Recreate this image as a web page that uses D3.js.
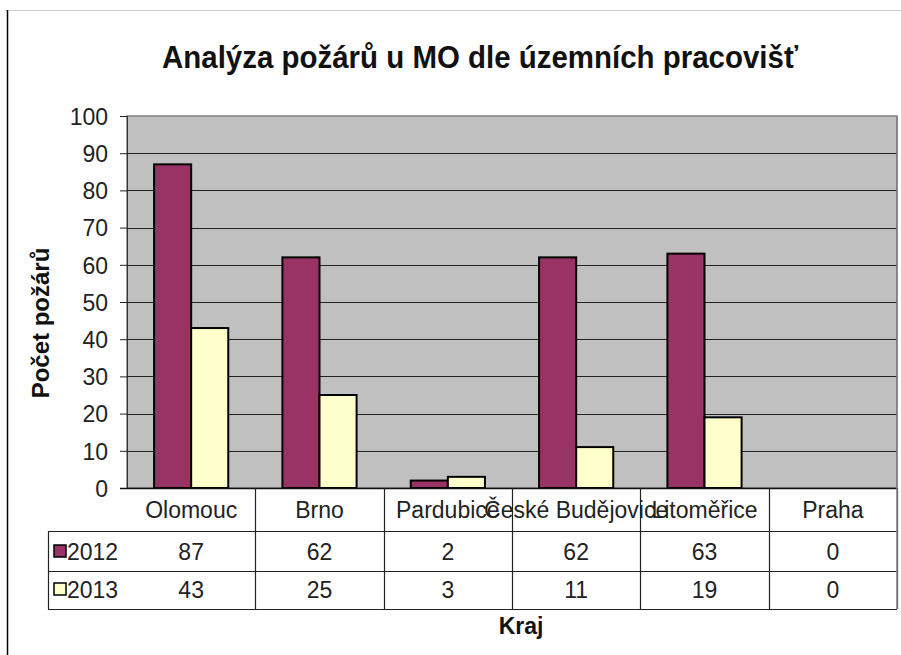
<!DOCTYPE html>
<html><head><meta charset="utf-8">
<script src="https://cdn.jsdelivr.net/npm/d3@7"></script>
<style>body{margin:0;background:#fff}svg{display:block}text{font-family:"Liberation Sans",Arial,sans-serif}</style>
</head><body><svg id="c" width="901" height="655"></svg>
<script>
const categories = ["Olomouc","Brno","Pardubice","České Budějovice","Litoměřice","Praha"];
const seriesNames = ["2012","2013"];
const values2012 = [87,62,2,62,63,0];
const values2013 = [43,25,3,11,19,0];
const yTicks = [0,10,20,30,40,50,60,70,80,90,100];
const colors = ["#993366","#FFFFCC"];

const svg = d3.select("#c");
const L=127,R=897,T=116,B=488;
svg.append("line").attr("x1",5).attr("x2",901).attr("y1",10.5).attr("y2",10.5).attr("stroke","#cfcfcf");
svg.append("line").attr("x1",7.5).attr("x2",7.5).attr("y1",10).attr("y2",655).attr("stroke","#000").attr("stroke-width",1.5);

svg.append("text").attr("x",162).attr("y",68).attr("font-size",32).attr("font-weight","bold").attr("fill","#111")
  .attr("textLength",636).attr("lengthAdjust","spacingAndGlyphs").text("Analýza požárů u MO dle územních pracovišť");

const x = d3.scaleBand().domain(categories).range([L,R]);
const y = d3.scaleLinear().domain([0,100]).range([B,T]);
const xs = d3.scaleBand().domain(seriesNames).range([0,x.bandwidth()]).paddingInner(0).paddingOuter(0.73);

svg.append("rect").attr("x",L).attr("y",T).attr("width",R-L).attr("height",B-T).attr("fill","#C0C0C0").attr("stroke","#808080").attr("stroke-width",1.5);

const yAxis = d3.axisLeft(y).tickValues(yTicks).tickSize(7).tickPadding(12);
const ga = svg.append("g").attr("transform",`translate(${L},0)`).call(yAxis);
ga.select(".domain").attr("stroke","#333");
ga.selectAll(".tick line").attr("stroke","#222");
ga.selectAll(".tick text").attr("font-size",23).attr("fill","#222").attr("font-family","Liberation Sans, Arial").attr("dy","0.36em");
svg.append("g").selectAll("line").data(yTicks.filter(d=>d>0 && d<100)).join("line")
  .attr("x1",L).attr("x2",R).attr("y1",d=>Math.round(y(d))+0.5).attr("y2",d=>Math.round(y(d))+0.5).attr("stroke","#222").attr("stroke-width",1.2);

const series=[values2012,values2013];
series.forEach((vals,si)=>{
  svg.append("g").selectAll("rect").data(vals.map((v,i)=>({c:categories[i],v}))).join("rect")
    .attr("x",d=>x(d.c)+xs(seriesNames[si])).attr("width",xs.bandwidth())
    .attr("y",d=>y(d.v)).attr("height",d=>B-y(d.v))
    .attr("fill",colors[si]).attr("stroke","#000").attr("stroke-width",d=>d.v>0?2:0);
});
svg.append("line").attr("x1",L-7).attr("x2",R).attr("y1",B+0.5).attr("y2",B+0.5).attr("stroke","#111").attr("stroke-width",1.5);

// data table
const r1=531,r2=571,r3=609,TL=48;
const tg=svg.append("g").attr("stroke","#222").attr("stroke-width",1.2);
[r1,r2,r3].forEach(yy=>tg.append("line").attr("x1",TL).attr("x2",R).attr("y1",yy+0.5).attr("y2",yy+0.5));
tg.append("line").attr("x1",TL+0.5).attr("x2",TL+0.5).attr("y1",r1).attr("y2",r3);
categories.forEach((c,i)=>{
  const xx=x(c)+x.bandwidth();
  tg.append("line").attr("x1",Math.round(xx)+0.5).attr("x2",Math.round(xx)+0.5).attr("y1",B).attr("y2",r3);
});
svg.append("line").attr("x1",R).attr("x2",R).attr("y1",T).attr("y2",r3).attr("stroke","#808080").attr("stroke-width",1.5);
svg.append("g").selectAll("text").data(categories).join("text")
  .attr("x",d=>x(d)+x.bandwidth()/2).attr("y",518).attr("text-anchor","middle").attr("font-size",23).attr("fill","#222").text(d=>d);
[[values2012,560],[values2013,598]].forEach(([vals,yy],si)=>{
  svg.append("g").selectAll("text").data(vals).join("text")
    .attr("x",(d,i)=>x(categories[i])+x.bandwidth()/2).attr("y",yy).attr("text-anchor","middle").attr("font-size",23).attr("fill","#222").text(d=>d);
  svg.append("rect").attr("x",54).attr("y",yy-15).attr("width",12).attr("height",12).attr("fill",colors[si]).attr("stroke","#000").attr("stroke-width",1.5);
  svg.append("text").attr("x",67).attr("y",yy).attr("font-size",23).attr("fill","#222").text(seriesNames[si]);
});

svg.append("text").attr("x",521).attr("y",634).attr("text-anchor","middle").attr("font-size",23).attr("font-weight","bold").attr("fill","#111").text("Kraj");
svg.append("text").attr("transform","translate(49,323) rotate(-90)").attr("text-anchor","middle").attr("font-size",24).attr("font-weight","bold").attr("fill","#111").text("Počet požárů");
</script></body></html>
